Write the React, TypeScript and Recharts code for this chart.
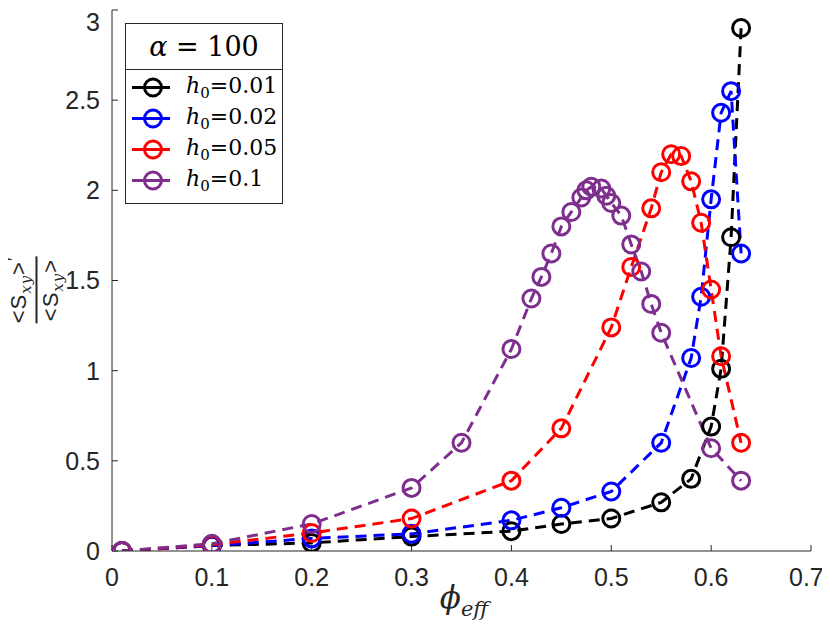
import { LineChart, Line, XAxis, YAxis, Legend } from 'recharts'

// phi_eff values and normalised stress for each h0 (alpha = 100)
const phiH001 = [0.01, 0.1, 0.2, 0.3, 0.4, 0.45, 0.5, 0.55, 0.58, 0.6, 0.61, 0.62, 0.63]
const sH001 = [0, 0.03, 0.045, 0.08, 0.11, 0.15, 0.18, 0.27, 0.4, 0.69, 1.01, 1.74, 2.9]

const phiH002 = [0.01, 0.1, 0.2, 0.3, 0.4, 0.45, 0.5, 0.55, 0.58, 0.59, 0.6, 0.61, 0.62, 0.63]
const sH002 = [0, 0.03, 0.07, 0.095, 0.17, 0.24, 0.33, 0.6, 1.07, 1.41, 1.95, 2.43, 2.55, 1.65]

const phiH005 = [0.01, 0.1, 0.2, 0.3, 0.4, 0.45, 0.5, 0.52, 0.54, 0.55, 0.56, 0.57, 0.58, 0.59, 0.6, 0.61, 0.63]
const sH005 = [0, 0.035, 0.1, 0.18, 0.39, 0.68, 1.24, 1.575, 1.9, 2.1, 2.2, 2.19, 2.05, 1.82, 1.45, 1.08, 0.6]

const phiH01 = [0.01, 0.1, 0.2, 0.3, 0.35, 0.4, 0.42, 0.43, 0.44, 0.45, 0.46, 0.47, 0.475, 0.48, 0.49, 0.495, 0.5, 0.51, 0.52, 0.53, 0.54, 0.55, 0.6, 0.63]
const sH01 = [0, 0.04, 0.15, 0.35, 0.6, 1.12, 1.4, 1.52, 1.65, 1.8, 1.88, 1.96, 2.0, 2.02, 2.01, 1.97, 1.93, 1.86, 1.7, 1.55, 1.37, 1.21, 0.57, 0.39]

const xTicks = [0, 0.1, 0.2, 0.3, 0.4, 0.5, 0.6, 0.7]
const yTicks = [0, 0.5, 1, 1.5, 2, 2.5, 3]

const h0Labels = ['0.01', '0.02', '0.05', '0.1']
const COLORS = ['#000000', '#0000ff', '#ff0000', '#7e2f8e']

const toPoints = (xs: number[], ys: number[]) => xs.map((x, i) => ({ x, y: ys[i] }))

const series = [
  toPoints(phiH001, sH001),
  toPoints(phiH002, sH002),
  toPoints(phiH005, sH005),
  toPoints(phiH01, sH01),
].map((data, i) => ({ data, color: COLORS[i], label: h0Labels[i] }))

const axisColor = '#262626'
const tickFont = { fontFamily: 'Liberation Sans, Arial, sans-serif', fontSize: 25, fill: axisColor }

function LegendBox() {
  return (
    <div
      style={{
        width: 156,
        border: `1px solid ${axisColor}`,
        background: '#fff',
        fontFamily: 'DejaVu Serif, serif',
        color: '#000',
      }}
    >
      <div
        style={{
          height: 45,
          borderBottom: `1px solid ${axisColor}`,
          display: 'flex',
          alignItems: 'center',
          justifyContent: 'center',
          fontSize: 27,
          lineHeight: 1,
          whiteSpace: 'nowrap',
        }}
      >
        <span style={{ fontStyle: 'italic' }}>α</span>&nbsp;=&nbsp;100
      </div>
      <div style={{ paddingTop: 2, paddingBottom: 7 }}>
        {series.map((s) => (
          <div key={s.label} style={{ height: 31, display: 'flex', alignItems: 'center' }}>
            <svg width={60} height={31} style={{ flex: 'none' }}>
              <line x1={6} x2={44} y1={15.5} y2={15.5} stroke={s.color} strokeWidth={3} />
              <circle cx={27} cy={15.5} r={8.5} fill="none" stroke={s.color} strokeWidth={3} />
            </svg>
            <span style={{ fontSize: 22, lineHeight: 1, whiteSpace: 'nowrap' }}>
              <span style={{ fontStyle: 'italic' }}>h</span>
              <span style={{ fontSize: 15, verticalAlign: -5 }}>0</span>=0{s.label.slice(1)}
            </span>
          </div>
        ))}
      </div>
    </div>
  )
}

export default function App() {
  return (
    <div style={{ position: 'relative', width: 814, height: 618 }}>
      <style>{'.recharts-surface { overflow: visible; }'}</style>
      <LineChart width={814} height={600} margin={{ top: 2, right: 11, left: 0, bottom: 0 }}>
        <XAxis
          type="number"
          dataKey="x"
          domain={[0, 0.7]}
          ticks={xTicks}
          allowDataOverflow
          height={57}
          tickSize={-6}
          tickMargin={23}
          stroke={axisColor}
          tick={tickFont}
        />
        <XAxis
          xAxisId="top"
          orientation="top"
          type="number"
          dataKey="x"
          domain={[0, 0.7]}
          ticks={xTicks}
          height={0}
          tickSize={-6}
          tickFormatter={() => ''}
          stroke={axisColor}
        />
        <YAxis
          type="number"
          domain={[0, 3]}
          ticks={yTicks}
          allowDataOverflow
          width={104}
          tickSize={-6}
          tickMargin={18}
          stroke={axisColor}
          tick={tickFont}
        />
        <YAxis
          yAxisId="right"
          orientation="right"
          type="number"
          domain={[0, 3]}
          ticks={yTicks}
          width={0}
          tickSize={-6}
          tickFormatter={() => ''}
          stroke={axisColor}
        />
        <Legend
          layout="horizontal"
          align="center"
          verticalAlign="middle"
          wrapperStyle={{ position: 'absolute', left: 117, top: 15, width: 158 }}
          content={() => <LegendBox />}
        />
        {series.map((s) => (
          <Line
            key={s.label}
            data={s.data}
            dataKey="y"
            type="linear"
            stroke={s.color}
            strokeWidth={3}
            strokeDasharray="11 7"
            isAnimationActive={false}
            dot={(props: any) => (
              <circle
                key={`${s.label}-${props.index}`}
                cx={props.cx}
                cy={props.cy}
                r={8.5}
                fill="none"
                stroke={s.color}
                strokeWidth={3}
              />
            )}
            activeDot={false}
          />
        ))}
      </LineChart>

      <div
        style={{
          position: 'absolute',
          left: 456,
          top: 574,
          transform: 'translateX(-50%)',
          fontFamily: 'DejaVu Serif, serif',
          fontStyle: 'italic',
          fontSize: 31,
          lineHeight: 1,
          color: axisColor,
          whiteSpace: 'nowrap',
        }}
      >
        ϕ<span style={{ fontSize: 21, verticalAlign: -8 }}>eff</span>
      </div>

      <div
        style={{
          position: 'absolute',
          left: 26,
          top: 282,
          transform: 'translate(-50%, -50%) rotate(-90deg)',
          display: 'flex',
          flexDirection: 'column',
          alignItems: 'center',
          color: axisColor,
          fontFamily: 'Liberation Sans, Arial, sans-serif',
          fontSize: 22,
          lineHeight: 1,
          whiteSpace: 'nowrap',
          letterSpacing: 1,
        }}
      >
        <div style={{ paddingTop: 2 }}>
          &lt;S<span style={{ fontFamily: 'DejaVu Serif, serif', fontStyle: 'italic', fontSize: 15, verticalAlign: -5 }}>xy</span>&gt;
          <span style={{ fontSize: 18, verticalAlign: 6 }}>′</span>
        </div>
        <div style={{ alignSelf: 'stretch', height: 2, background: axisColor, margin: '2px 0' }} />
        <div>
          &lt;S<span style={{ fontFamily: 'DejaVu Serif, serif', fontStyle: 'italic', fontSize: 15, verticalAlign: -5 }}>xy</span>&gt;
        </div>
      </div>
    </div>
  )
}
